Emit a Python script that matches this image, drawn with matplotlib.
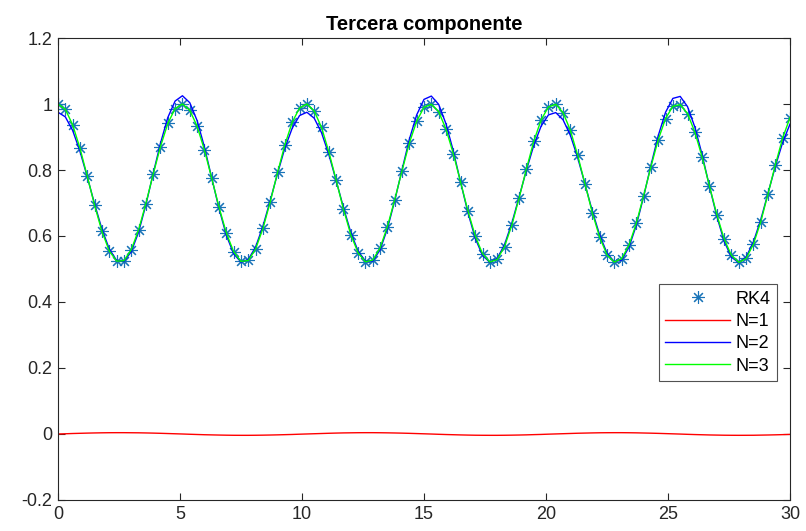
import matplotlib
matplotlib.use("Agg")
import matplotlib.pyplot as plt

plt.rcParams['font.family'] = ['Liberation Sans', 'DejaVu Sans']

# time grid (step 0.3 from 0 to 30)
t_values = [round(0.3 * k, 1) for k in range(101)]

rk4_values = [
    1.000, 0.984, 0.937, 0.866, 0.781, 0.693, 0.614, 0.555, 0.524, 0.525,
    0.558, 0.618, 0.698, 0.787, 0.871, 0.941, 0.986, 1.000, 0.981, 0.933,
    0.861, 0.775, 0.687, 0.609, 0.552, 0.523, 0.526, 0.561, 0.623, 0.704,
    0.793, 0.877, 0.945, 0.988, 1.000, 0.979, 0.929, 0.855, 0.769, 0.681,
    0.604, 0.549, 0.522, 0.527, 0.564, 0.628, 0.710, 0.798, 0.882, 0.948,
    0.990, 0.999, 0.977, 0.924, 0.850, 0.763, 0.676, 0.600, 0.546, 0.521,
    0.529, 0.568, 0.633, 0.716, 0.804, 0.887, 0.952, 0.991, 0.999, 0.974,
    0.920, 0.844, 0.757, 0.670, 0.596, 0.543, 0.521, 0.531, 0.572, 0.638,
    0.722, 0.810, 0.892, 0.956, 0.993, 0.998, 0.971, 0.915, 0.839, 0.751,
    0.665, 0.591, 0.541, 0.520, 0.532, 0.575, 0.643, 0.728, 0.816, 0.897,
    0.959,
]

n1_values = [
    0.0000, 0.0007, 0.0015, 0.0021, 0.0027, 0.0032, 0.0036, 0.0039, 0.0040, 0.0040,
    0.0038, 0.0036, 0.0032, 0.0027, 0.0021, 0.0014, 0.0007, -0.0000, -0.0008, -0.0015,
    -0.0022, -0.0027, -0.0032, -0.0036, -0.0039, -0.0040, -0.0040, -0.0038, -0.0035, -0.0031,
    -0.0026, -0.0020, -0.0014, -0.0006, 0.0001, 0.0008, 0.0015, 0.0022, 0.0028, 0.0033,
    0.0036, 0.0039, 0.0040, 0.0040, 0.0038, 0.0035, 0.0031, 0.0026, 0.0020, 0.0013,
    0.0006, -0.0001, -0.0009, -0.0016, -0.0022, -0.0028, -0.0033, -0.0037, -0.0039, -0.0040,
    -0.0040, -0.0038, -0.0035, -0.0031, -0.0026, -0.0019, -0.0013, -0.0005, 0.0002, 0.0009,
    0.0016, 0.0023, 0.0028, 0.0033, 0.0037, 0.0039, 0.0040, 0.0040, 0.0038, 0.0035,
    0.0030, 0.0025, 0.0019, 0.0012, 0.0005, -0.0002, -0.0010, -0.0017, -0.0023, -0.0029,
    -0.0033, -0.0037, -0.0039, -0.0040, -0.0039, -0.0038, -0.0034, -0.0030, -0.0025, -0.0019,
    -0.0012,
]

n2_values = [
    0.975, 0.961, 0.920, 0.857, 0.779, 0.697, 0.621, 0.561, 0.526, 0.523,
    0.552, 0.611, 0.694, 0.789, 0.881, 0.959, 1.009, 1.025, 1.004, 0.950,
    0.870, 0.776, 0.683, 0.602, 0.546, 0.521, 0.529, 0.567, 0.630, 0.708,
    0.790, 0.867, 0.927, 0.965, 0.975, 0.957, 0.913, 0.847, 0.768, 0.686,
    0.611, 0.554, 0.524, 0.524, 0.558, 0.622, 0.707, 0.801, 0.893, 0.967,
    1.014, 1.024, 0.999, 0.940, 0.858, 0.763, 0.671, 0.593, 0.541, 0.520,
    0.532, 0.574, 0.639, 0.719, 0.800, 0.875, 0.933, 0.967, 0.974, 0.952,
    0.905, 0.837, 0.757, 0.675, 0.603, 0.548, 0.522, 0.527, 0.566, 0.632,
    0.719, 0.814, 0.904, 0.975, 1.017, 1.023, 0.992, 0.930, 0.846, 0.750,
    0.660, 0.584, 0.536, 0.519, 0.536, 0.582, 0.649, 0.730, 0.811, 0.884,
    0.939,
]

n3_values = list(rk4_values)

series_labels = ['RK4', 'N=1', 'N=2', 'N=3']
x_ticks = [0, 5, 10, 15, 20, 25, 30]
y_ticks = [-0.2, 0, 0.2, 0.4, 0.6, 0.8, 1.0, 1.2]
y_tick_labels = ['-0.2', '0', '0.2', '0.4', '0.6', '0.8', '1', '1.2']

fig = plt.figure(figsize=(8.06, 5.31), dpi=100)
ax = fig.add_axes([58 / 806, 31 / 531, 732 / 806, 462 / 531])

ax.plot(t_values, rk4_values, linestyle='none', marker=(8, 2, 0), markersize=9,
        markeredgewidth=0.8, color='#1a74b8', label=series_labels[0])
ax.plot(t_values, n1_values, color='#ff0000', lw=1.0, label=series_labels[1])
ax.plot(t_values, n2_values, color='#0000ff', lw=1.0, label=series_labels[2])
ax.plot(t_values, n3_values, color='#00ff00', lw=1.0, label=series_labels[3])

ax.set_xlim(0, 30)
ax.set_ylim(-0.2, 1.2)
ax.set_xticks(x_ticks)
ax.set_xticklabels([str(v) for v in x_ticks])
ax.set_yticks(y_ticks)
ax.set_yticklabels(y_tick_labels)
ax.tick_params(direction='in', top=True, right=True, length=5, width=0.8,
               labelsize=13, colors='#262626', pad=4)
for s in ax.spines.values():
    s.set_color('#262626')
    s.set_linewidth(0.8)

ax.set_title('Tercera componente', fontsize=14.5, fontweight='bold', pad=6)

leg = ax.legend(loc='upper right', bbox_to_anchor=(0.982, 0.467), fontsize=13,
                frameon=True, fancybox=False, edgecolor='#262626',
                handlelength=3.6, handletextpad=0.3, borderpad=0.35,
                labelspacing=0.3, markerfirst=True, borderaxespad=0)
leg.get_frame().set_linewidth(0.8)

fig.savefig('out.png', dpi=100)
